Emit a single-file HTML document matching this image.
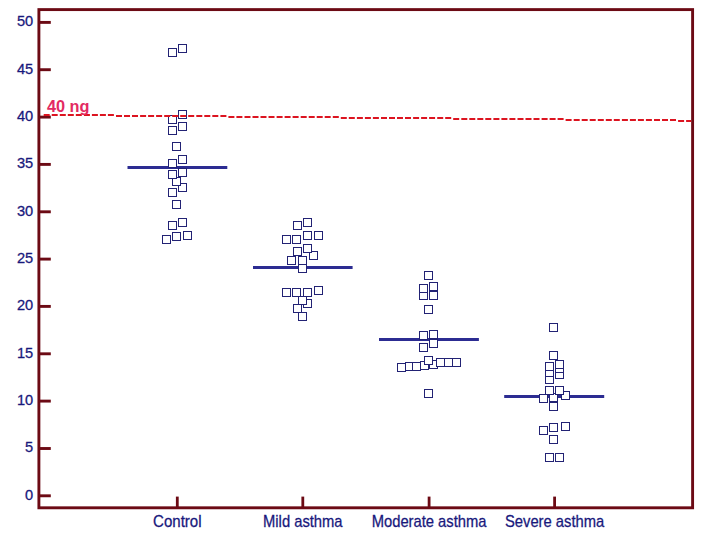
<!DOCTYPE html>
<html><head><meta charset="utf-8"><title>Chart</title>
<style>
html,body{margin:0;padding:0;background:#fff;}
body{width:706px;height:539px;overflow:hidden;font-family:"Liberation Sans",sans-serif;}
svg{display:block;}
text{font-family:"Liberation Sans",sans-serif;}
</style></head><body>
<svg width="706" height="539" viewBox="0 0 706 539">
<rect x="0" y="0" width="706" height="539" fill="#ffffff"/>
<rect x="38.9" y="9.6" width="653.7" height="498.2" fill="none" stroke="#6c0a14" stroke-width="2.9"/>
<line x1="38.9" y1="495.8" x2="50.8" y2="495.8" stroke="#6c0a14" stroke-width="2.9"/>
<text transform="translate(33.2,499.7) scale(0.975,1)" font-size="15.0" fill="#18187c" stroke="#18187c" stroke-width="0.28" text-anchor="end">0</text>
<line x1="38.9" y1="448.5" x2="50.8" y2="448.5" stroke="#6c0a14" stroke-width="2.9"/>
<text transform="translate(33.2,452.4) scale(0.975,1)" font-size="15.0" fill="#18187c" stroke="#18187c" stroke-width="0.28" text-anchor="end">5</text>
<line x1="38.9" y1="401.1" x2="50.8" y2="401.1" stroke="#6c0a14" stroke-width="2.9"/>
<text transform="translate(33.2,405.0) scale(0.975,1)" font-size="15.0" fill="#18187c" stroke="#18187c" stroke-width="0.28" text-anchor="end">10</text>
<line x1="38.9" y1="353.8" x2="50.8" y2="353.8" stroke="#6c0a14" stroke-width="2.9"/>
<text transform="translate(33.2,357.7) scale(0.975,1)" font-size="15.0" fill="#18187c" stroke="#18187c" stroke-width="0.28" text-anchor="end">15</text>
<line x1="38.9" y1="306.4" x2="50.8" y2="306.4" stroke="#6c0a14" stroke-width="2.9"/>
<text transform="translate(33.2,310.3) scale(0.975,1)" font-size="15.0" fill="#18187c" stroke="#18187c" stroke-width="0.28" text-anchor="end">20</text>
<line x1="38.9" y1="259.1" x2="50.8" y2="259.1" stroke="#6c0a14" stroke-width="2.9"/>
<text transform="translate(33.2,263.0) scale(0.975,1)" font-size="15.0" fill="#18187c" stroke="#18187c" stroke-width="0.28" text-anchor="end">25</text>
<line x1="38.9" y1="211.8" x2="50.8" y2="211.8" stroke="#6c0a14" stroke-width="2.9"/>
<text transform="translate(33.2,215.7) scale(0.975,1)" font-size="15.0" fill="#18187c" stroke="#18187c" stroke-width="0.28" text-anchor="end">30</text>
<line x1="38.9" y1="164.4" x2="50.8" y2="164.4" stroke="#6c0a14" stroke-width="2.9"/>
<text transform="translate(33.2,168.3) scale(0.975,1)" font-size="15.0" fill="#18187c" stroke="#18187c" stroke-width="0.28" text-anchor="end">35</text>
<line x1="38.9" y1="117.1" x2="50.8" y2="117.1" stroke="#6c0a14" stroke-width="2.9"/>
<text transform="translate(33.2,121.0) scale(0.975,1)" font-size="15.0" fill="#18187c" stroke="#18187c" stroke-width="0.28" text-anchor="end">40</text>
<line x1="38.9" y1="69.7" x2="50.8" y2="69.7" stroke="#6c0a14" stroke-width="2.9"/>
<text transform="translate(33.2,73.6) scale(0.975,1)" font-size="15.0" fill="#18187c" stroke="#18187c" stroke-width="0.28" text-anchor="end">45</text>
<line x1="38.9" y1="22.4" x2="50.8" y2="22.4" stroke="#6c0a14" stroke-width="2.9"/>
<text transform="translate(33.2,26.3) scale(0.975,1)" font-size="15.0" fill="#18187c" stroke="#18187c" stroke-width="0.28" text-anchor="end">50</text>
<line x1="177.3" y1="496.6" x2="177.3" y2="507.85" stroke="#6c0a14" stroke-width="2.8"/>
<text transform="translate(177.3,526.6) scale(0.92,1)" font-size="16.4" fill="#18187c" stroke="#18187c" stroke-width="0.28" text-anchor="middle">Control</text>
<line x1="302.8" y1="496.6" x2="302.8" y2="507.85" stroke="#6c0a14" stroke-width="2.8"/>
<text transform="translate(302.8,526.6) scale(0.9,1)" font-size="16.4" fill="#18187c" stroke="#18187c" stroke-width="0.28" text-anchor="middle">Mild asthma</text>
<line x1="429.1" y1="496.6" x2="429.1" y2="507.85" stroke="#6c0a14" stroke-width="2.8"/>
<text transform="translate(429.1,526.6) scale(0.9,1)" font-size="16.4" fill="#18187c" stroke="#18187c" stroke-width="0.28" text-anchor="middle">Moderate asthma</text>
<line x1="554.6" y1="496.6" x2="554.6" y2="507.85" stroke="#6c0a14" stroke-width="2.8"/>
<text transform="translate(554.6,526.6) scale(0.9,1)" font-size="16.4" fill="#18187c" stroke="#18187c" stroke-width="0.28" text-anchor="middle">Severe asthma</text>
<line x1="127.5" y1="167.5" x2="227.3" y2="167.5" stroke="#2c2c92" stroke-width="2.9"/>
<rect x="162.5" y="235.5" width="8" height="8" fill="#fff" stroke="#222274" stroke-width="1"/>
<rect x="172.5" y="232.5" width="8" height="8" fill="#fff" stroke="#222274" stroke-width="1"/>
<rect x="183.5" y="231.5" width="8" height="8" fill="#fff" stroke="#222274" stroke-width="1"/>
<rect x="168.5" y="221.5" width="8" height="8" fill="#fff" stroke="#222274" stroke-width="1"/>
<rect x="178.5" y="218.5" width="8" height="8" fill="#fff" stroke="#222274" stroke-width="1"/>
<rect x="172.5" y="200.5" width="8" height="8" fill="#fff" stroke="#222274" stroke-width="1"/>
<rect x="168.5" y="188.5" width="8" height="8" fill="#fff" stroke="#222274" stroke-width="1"/>
<rect x="178.5" y="183.5" width="8" height="8" fill="#fff" stroke="#222274" stroke-width="1"/>
<rect x="172.5" y="177.5" width="8" height="8" fill="#fff" stroke="#222274" stroke-width="1"/>
<rect x="168.5" y="170.5" width="8" height="8" fill="#fff" stroke="#222274" stroke-width="1"/>
<rect x="178.5" y="168.5" width="8" height="8" fill="#fff" stroke="#222274" stroke-width="1"/>
<rect x="168.5" y="159.5" width="8" height="8" fill="#fff" stroke="#222274" stroke-width="1"/>
<rect x="178.5" y="155.5" width="8" height="8" fill="#fff" stroke="#222274" stroke-width="1"/>
<rect x="172.5" y="142.5" width="8" height="8" fill="#fff" stroke="#222274" stroke-width="1"/>
<rect x="168.5" y="126.5" width="8" height="8" fill="#fff" stroke="#222274" stroke-width="1"/>
<rect x="178.5" y="122.5" width="8" height="8" fill="#fff" stroke="#222274" stroke-width="1"/>
<rect x="168.5" y="115.5" width="8" height="8" fill="#fff" stroke="#222274" stroke-width="1"/>
<rect x="178.5" y="110.5" width="8" height="8" fill="#fff" stroke="#222274" stroke-width="1"/>
<rect x="168.5" y="48.5" width="8" height="8" fill="#fff" stroke="#222274" stroke-width="1"/>
<rect x="178.5" y="44.5" width="8" height="8" fill="#fff" stroke="#222274" stroke-width="1"/>
<line x1="253" y1="267.5" x2="352.6" y2="267.5" stroke="#2c2c92" stroke-width="2.9"/>
<rect x="298.5" y="312.5" width="8" height="8" fill="#fff" stroke="#222274" stroke-width="1"/>
<rect x="293.5" y="304.5" width="8" height="8" fill="#fff" stroke="#222274" stroke-width="1"/>
<rect x="303.5" y="299.5" width="8" height="8" fill="#fff" stroke="#222274" stroke-width="1"/>
<rect x="298.5" y="296.5" width="8" height="8" fill="#fff" stroke="#222274" stroke-width="1"/>
<rect x="282.5" y="288.5" width="8" height="8" fill="#fff" stroke="#222274" stroke-width="1"/>
<rect x="292.5" y="288.5" width="8" height="8" fill="#fff" stroke="#222274" stroke-width="1"/>
<rect x="303.5" y="288.5" width="8" height="8" fill="#fff" stroke="#222274" stroke-width="1"/>
<rect x="314.5" y="286.5" width="8" height="8" fill="#fff" stroke="#222274" stroke-width="1"/>
<rect x="298.5" y="264.5" width="8" height="8" fill="#fff" stroke="#222274" stroke-width="1"/>
<rect x="287.5" y="256.5" width="8" height="8" fill="#fff" stroke="#222274" stroke-width="1"/>
<rect x="298.5" y="256.5" width="8" height="8" fill="#fff" stroke="#222274" stroke-width="1"/>
<rect x="309.5" y="251.5" width="8" height="8" fill="#fff" stroke="#222274" stroke-width="1"/>
<rect x="293.5" y="247.5" width="8" height="8" fill="#fff" stroke="#222274" stroke-width="1"/>
<rect x="303.5" y="244.5" width="8" height="8" fill="#fff" stroke="#222274" stroke-width="1"/>
<rect x="282.5" y="235.5" width="8" height="8" fill="#fff" stroke="#222274" stroke-width="1"/>
<rect x="292.5" y="235.5" width="8" height="8" fill="#fff" stroke="#222274" stroke-width="1"/>
<rect x="303.5" y="231.5" width="8" height="8" fill="#fff" stroke="#222274" stroke-width="1"/>
<rect x="314.5" y="231.5" width="8" height="8" fill="#fff" stroke="#222274" stroke-width="1"/>
<rect x="293.5" y="221.5" width="8" height="8" fill="#fff" stroke="#222274" stroke-width="1"/>
<rect x="303.5" y="218.5" width="8" height="8" fill="#fff" stroke="#222274" stroke-width="1"/>
<line x1="379" y1="339.5" x2="478.9" y2="339.5" stroke="#2c2c92" stroke-width="2.9"/>
<rect x="424.5" y="389.5" width="8" height="8" fill="#fff" stroke="#222274" stroke-width="1"/>
<rect x="397.5" y="363.5" width="8" height="8" fill="#fff" stroke="#222274" stroke-width="1"/>
<rect x="405.5" y="362.5" width="8" height="8" fill="#fff" stroke="#222274" stroke-width="1"/>
<rect x="412.5" y="362.5" width="8" height="8" fill="#fff" stroke="#222274" stroke-width="1"/>
<rect x="420.5" y="361.5" width="8" height="8" fill="#fff" stroke="#222274" stroke-width="1"/>
<rect x="429.5" y="360.5" width="8" height="8" fill="#fff" stroke="#222274" stroke-width="1"/>
<rect x="436.5" y="358.5" width="8" height="8" fill="#fff" stroke="#222274" stroke-width="1"/>
<rect x="444.5" y="358.5" width="8" height="8" fill="#fff" stroke="#222274" stroke-width="1"/>
<rect x="452.5" y="358.5" width="8" height="8" fill="#fff" stroke="#222274" stroke-width="1"/>
<rect x="424.5" y="356.5" width="8" height="8" fill="#fff" stroke="#222274" stroke-width="1"/>
<rect x="419.5" y="343.5" width="8" height="8" fill="#fff" stroke="#222274" stroke-width="1"/>
<rect x="429.5" y="339.5" width="8" height="8" fill="#fff" stroke="#222274" stroke-width="1"/>
<rect x="419.5" y="331.5" width="8" height="8" fill="#fff" stroke="#222274" stroke-width="1"/>
<rect x="429.5" y="330.5" width="8" height="8" fill="#fff" stroke="#222274" stroke-width="1"/>
<rect x="424.5" y="305.5" width="8" height="8" fill="#fff" stroke="#222274" stroke-width="1"/>
<rect x="419.5" y="291.5" width="8" height="8" fill="#fff" stroke="#222274" stroke-width="1"/>
<rect x="429.5" y="291.5" width="8" height="8" fill="#fff" stroke="#222274" stroke-width="1"/>
<rect x="419.5" y="284.5" width="8" height="8" fill="#fff" stroke="#222274" stroke-width="1"/>
<rect x="429.5" y="282.5" width="8" height="8" fill="#fff" stroke="#222274" stroke-width="1"/>
<rect x="424.5" y="271.5" width="8" height="8" fill="#fff" stroke="#222274" stroke-width="1"/>
<line x1="504.2" y1="396.5" x2="604.2" y2="396.5" stroke="#2c2c92" stroke-width="2.9"/>
<rect x="545.5" y="453.5" width="8" height="8" fill="#fff" stroke="#222274" stroke-width="1"/>
<rect x="555.5" y="453.5" width="8" height="8" fill="#fff" stroke="#222274" stroke-width="1"/>
<rect x="549.5" y="435.5" width="8" height="8" fill="#fff" stroke="#222274" stroke-width="1"/>
<rect x="539.5" y="426.5" width="8" height="8" fill="#fff" stroke="#222274" stroke-width="1"/>
<rect x="549.5" y="423.5" width="8" height="8" fill="#fff" stroke="#222274" stroke-width="1"/>
<rect x="561.5" y="422.5" width="8" height="8" fill="#fff" stroke="#222274" stroke-width="1"/>
<rect x="549.5" y="402.5" width="8" height="8" fill="#fff" stroke="#222274" stroke-width="1"/>
<rect x="539.5" y="394.5" width="8" height="8" fill="#fff" stroke="#222274" stroke-width="1"/>
<rect x="549.5" y="393.5" width="8" height="8" fill="#fff" stroke="#222274" stroke-width="1"/>
<rect x="561.5" y="391.5" width="8" height="8" fill="#fff" stroke="#222274" stroke-width="1"/>
<rect x="545.5" y="386.5" width="8" height="8" fill="#fff" stroke="#222274" stroke-width="1"/>
<rect x="555.5" y="386.5" width="8" height="8" fill="#fff" stroke="#222274" stroke-width="1"/>
<rect x="545.5" y="375.5" width="8" height="8" fill="#fff" stroke="#222274" stroke-width="1"/>
<rect x="555.5" y="370.5" width="8" height="8" fill="#fff" stroke="#222274" stroke-width="1"/>
<rect x="545.5" y="368.5" width="8" height="8" fill="#fff" stroke="#222274" stroke-width="1"/>
<rect x="555.5" y="364.5" width="8" height="8" fill="#fff" stroke="#222274" stroke-width="1"/>
<rect x="545.5" y="362.5" width="8" height="8" fill="#fff" stroke="#222274" stroke-width="1"/>
<rect x="555.5" y="360.5" width="8" height="8" fill="#fff" stroke="#222274" stroke-width="1"/>
<rect x="549.5" y="351.5" width="8" height="8" fill="#fff" stroke="#222274" stroke-width="1"/>
<rect x="549.5" y="323.5" width="8" height="8" fill="#fff" stroke="#222274" stroke-width="1"/>
<path d="M43.7 114h6.0v2h-6.0zM51.7 114h6.0v2h-6.0zM59.8 114h6.0v2h-6.0zM67.8 114h6.0v2h-6.0zM75.8 114h6.0v2h-6.0zM83.9 114h6.0v2h-6.0zM91.9 114h6.0v2h-6.0zM99.9 114h6.0v2h-6.0zM107.9 114h6.0v2h-6.0zM116.0 115h6.0v2h-6.0zM124.0 115h6.0v2h-6.0zM132.0 115h6.0v2h-6.0zM140.1 115h6.0v2h-6.0zM148.1 115h6.0v2h-6.0zM156.1 115h6.0v2h-6.0zM164.2 115h6.0v2h-6.0zM172.2 115h6.0v2h-6.0zM180.2 115h6.0v2h-6.0zM188.2 115h6.0v2h-6.0zM196.3 115h6.0v2h-6.0zM204.3 115h6.0v2h-6.0zM212.3 115h6.0v2h-6.0zM220.4 115h6.0v2h-6.0zM228.4 116h6.0v2h-6.0zM236.4 116h6.0v2h-6.0zM244.5 116h6.0v2h-6.0zM252.5 116h6.0v2h-6.0zM260.5 116h6.0v2h-6.0zM268.5 116h6.0v2h-6.0zM276.6 116h6.0v2h-6.0zM284.6 116h6.0v2h-6.0zM292.6 116h6.0v2h-6.0zM300.7 116h6.0v2h-6.0zM308.7 116h6.0v2h-6.0zM316.7 116h6.0v2h-6.0zM324.7 116h6.0v2h-6.0zM332.8 116h6.0v2h-6.0zM340.8 117h6.0v2h-6.0zM348.8 117h6.0v2h-6.0zM356.9 117h6.0v2h-6.0zM364.9 117h6.0v2h-6.0zM372.9 117h6.0v2h-6.0zM381.0 117h6.0v2h-6.0zM389.0 117h6.0v2h-6.0zM397.0 117h6.0v2h-6.0zM405.0 117h6.0v2h-6.0zM413.1 117h6.0v2h-6.0zM421.1 117h6.0v2h-6.0zM429.1 117h6.0v2h-6.0zM437.2 117h6.0v2h-6.0zM445.2 117h6.0v2h-6.0zM453.2 118h6.0v2h-6.0zM461.3 118h6.0v2h-6.0zM469.3 118h6.0v2h-6.0zM477.3 118h6.0v2h-6.0zM485.3 118h6.0v2h-6.0zM493.4 118h6.0v2h-6.0zM501.4 118h6.0v2h-6.0zM509.4 118h6.0v2h-6.0zM517.5 118h6.0v2h-6.0zM525.5 118h6.0v2h-6.0zM533.5 118h6.0v2h-6.0zM541.6 118h6.0v2h-6.0zM549.6 118h6.0v2h-6.0zM557.6 118h6.0v2h-6.0zM565.6 119h6.0v2h-6.0zM573.7 119h6.0v2h-6.0zM581.7 119h6.0v2h-6.0zM589.7 119h6.0v2h-6.0zM597.8 119h6.0v2h-6.0zM605.8 119h6.0v2h-6.0zM613.8 119h6.0v2h-6.0zM621.9 119h6.0v2h-6.0zM629.9 119h6.0v2h-6.0zM637.9 119h6.0v2h-6.0zM645.9 119h6.0v2h-6.0zM654.0 119h6.0v2h-6.0zM662.0 119h6.0v2h-6.0zM670.0 119h6.0v2h-6.0zM678.1 120h6.0v2h-6.0zM686.1 120h5.1v2h-5.1z" fill="#dc1420"/>
<text x="46.9" y="111.7" font-size="16.3" font-weight="bold" fill="#e32a62">40 ng</text>
</svg>
</body></html>
